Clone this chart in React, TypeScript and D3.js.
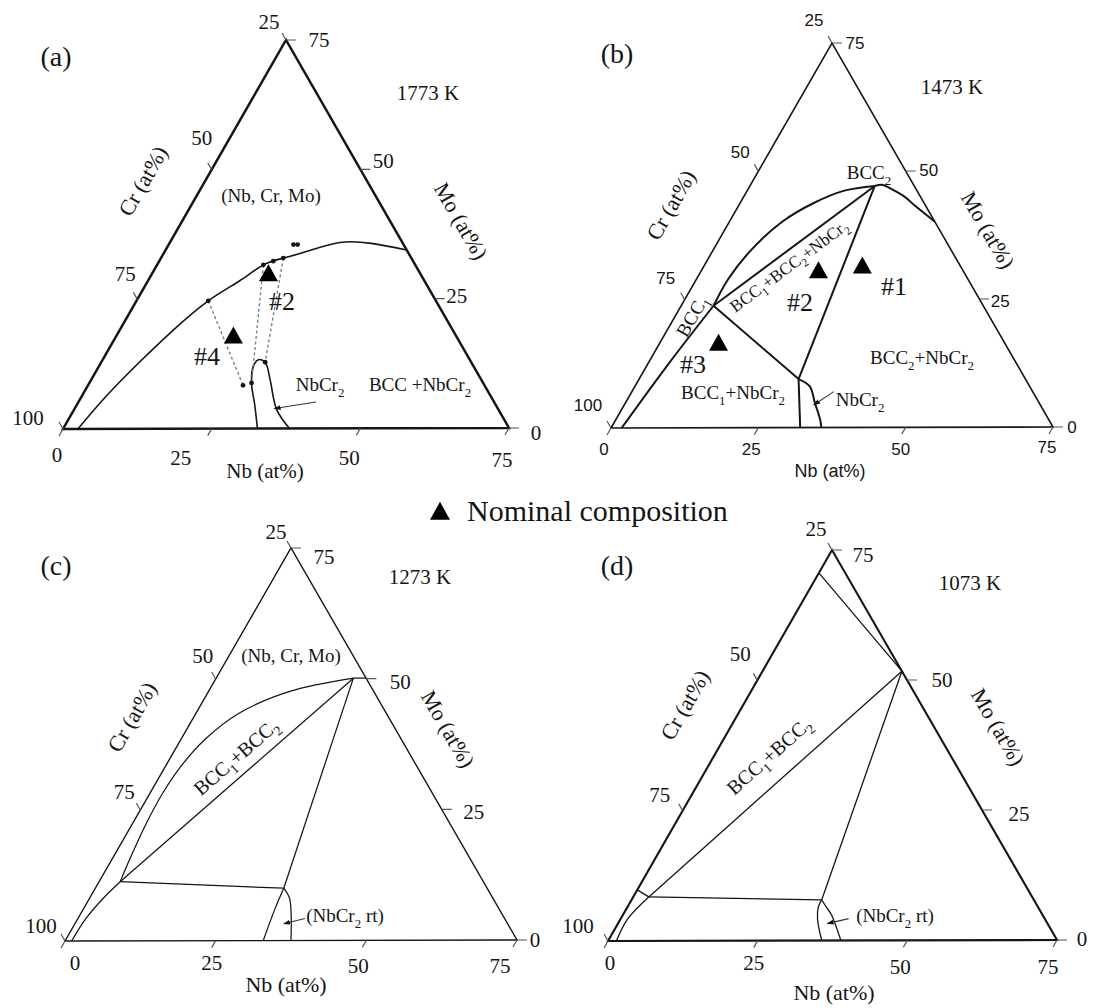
import React from 'react';
import * as d3 from 'd3';

type P = [number, number]; // [Nb at%, Mo at%]  (Cr = 100 - Nb - Mo)

// ---------- axes ----------
const axisMax = 75;
const nbTicks = [0, 25, 50, 75];
const moTicks = [0, 25, 50, 75];
const crTicks = [100, 75, 50, 25];
const panelLetters = ['(a)', '(b)', '(c)', '(d)'];
const temperatures = ['1773 K', '1473 K', '1273 K', '1073 K'];
const legendText = 'Nominal composition';

// ---------- (a) 1773 K ----------
const aSolvus: P[] = [[2.5, 0], [4.1, 6.3], [6.4, 12.8], [9.0, 19.0], [12.09, 24.68], [15.4, 28.5], [17.9, 31.6], [20.6, 32.9], [24.2, 34.3], [28.6, 35.9], [34.0, 35.7], [40.6, 34.4]];
const aNbCr2: P[] = [[32.7, 0], [30.0, 4.5], [27.3, 8.81], [26.0, 12.0], [26.2, 13.3], [27.6, 12.8], [30.1, 9.45], [34.1, 3.66], [38.1, 0]];
const aTieLines: P[][] = [[[12.09, 24.68], [26.1, 8.35]], [[17.9, 31.6], [27.3, 8.81]], [[20.6, 32.9], [27.6, 12.8]]];
const aDots: P[] = [[12.09, 24.68], [26.1, 8.35], [17.9, 31.6], [27.3, 8.81], [19.2, 32.3], [20.6, 32.9], [27.6, 12.8], [21.0, 35.5], [21.7, 35.5]];
const aNominal = [{ id: '#2', nb: 19.7, mo: 29.7 }, { id: '#4', nb: 19.8, mo: 17.7 }];
const aArrow: P[] = [[40.0, 5.1], [33.6, 3.86]];

// ---------- (b) 1473 K ----------
const bBcc1: P = [5.5, 23.8];
const bBcc2: P = [21.2, 47.1];
const bCorner: P = [27.1, 9.46];
const bUpperArc: P[] = [[5.5, 23.8], [5.4, 29.0], [6.4, 34.5], [9.0, 40.2], [12.5, 43.8], [16.5, 46.2], [21.2, 47.1]];
const bRightCurve: P[] = [[21.2, 47.1], [22.5, 47.3], [24.1, 46.6], [27.3, 45.0], [30.0, 43.2], [34.9, 40.1]];
const bLeftCurve: P[] = [[5.5, 23.8], [3.5, 12.4], [1.8, 0]];
const bNbCr2Left: P[] = [[27.1, 9.46], [32.1, 0]];
const bNbCr2Right: P[] = [[27.1, 9.46], [29.7, 8.05], [32.2, 4.8], [34.7, 1.56], [35.7, 0]];
const bNominal = [{ id: '#1', nb: 27.0, mo: 31.3 }, { id: '#2', nb: 20.0, mo: 30.4 }, { id: '#3', nb: 10.1, mo: 16.3 }];
const bArrow: P[] = [[34.3, 7.0], [32.2, 4.4]];

// ---------- (c) 1273 K ----------
const cBcc1: P = [3.5, 11.3];
const cBcc2: P = [22.8, 50.1];
const cCorner: P = [31.3, 10.0];
const cUpperArc: P[] = [[3.5, 11.3], [2.9, 16.0], [2.3, 22.0], [2.1, 28.0], [2.6, 33.5], [4.0, 38.5], [7.2, 43.5], [13.5, 47.6], [22.8, 50.1]];
const cEdgeSeg: P[] = [[22.8, 50.1], [24.9, 50.1]];
const cLowerCurve: P[] = [[3.5, 11.3], [2.26, 8.1], [1.33, 4.2], [1.1, 0]];
const cNbCr2Left: P[] = [[31.3, 10.0], [31.8, 6.1], [32.9, 0]];
const cNbCr2Right: P[] = [[31.3, 10.0], [33.2, 8.1], [35.1, 4.85], [37.5, 0]];
const cArrow: P[] = [[37.7, 4.2], [34.7, 3.2]];

// ---------- (d) 1073 K ----------
const dBcc1: P = [2.6, 8.45];
const dBcc2: P = [23.3, 51.7];
const dCorner: P = [31.8, 7.8];
const dTopLine: P[] = [[0, 70.6], [23.3, 51.7]];
const dEdgeSeg: P[] = [[0, 9.8], [2.6, 8.45]];
const dLowerCurve: P[] = [[2.6, 8.45], [1.16, 4.2], [1.4, 0]];
const dNbCr2Left: P[] = [[31.8, 7.8], [31.9, 6.5], [32.9, 4.2], [35.7, 0]];
const dNbCr2Right: P[] = [[31.8, 7.8], [33.4, 6.3], [34.9, 4.9], [38.9, 0]];
const dArrow: P[] = [[38.1, 4.2], [35.0, 3.25]];

const SERIF = '"Liberation Serif", "Times New Roman", Times, serif';
const SANS = '"Liberation Sans", Arial, sans-serif';
const INK = '#151515';

function RichText({ x, y, text, size, family = SERIF, anchor = 'middle', angle = 0, fill = INK }: any) {
  const tokens = text.split(/(_[0-9])/).filter((s: string) => s.length);
  const sub = size * 0.28;
  const out: any[] = [];
  let shifted = false;
  tokens.forEach((t: string, i: number) => {
    if (t.startsWith('_')) {
      out.push(<tspan key={i} fontSize={size * 0.68} dy={sub}>{t.slice(1)}</tspan>);
      shifted = true;
    } else {
      out.push(<tspan key={i} dy={shifted ? -sub : 0}>{t}</tspan>);
      shifted = false;
    }
  });
  return (
    <text x={x} y={y + size * 0.34} fontSize={size} fontFamily={family} textAnchor={anchor}
      transform={angle ? `rotate(${angle},${x},${y})` : undefined} fill={fill}>{out}</text>
  );
}

function makeProj(bl: number[], br: number[], ap: number[]) {
  const f = d3.scaleLinear().domain([0, axisMax]).range([0, 1]);
  return (p: P): [number, number] => {
    const u = f(p[0]);
    const v = f(p[1]);
    return [bl[0] + u * (br[0] - bl[0]) + v * (ap[0] - bl[0]), bl[1] + u * (br[1] - bl[1]) + v * (ap[1] - bl[1])];
  };
}

function unit(a: number[], b: number[]) {
  const dx = b[0] - a[0], dy = b[1] - a[1];
  const l = Math.hypot(dx, dy);
  return [dx / l, dy / l];
}

function triPath(x: number, y: number, w: number, h: number) {
  return `M${x},${y - h * 0.62}L${x + w / 2},${y + h * 0.38}L${x - w / 2},${y + h * 0.38}Z`;
}

function Panel({ s, idx }: any) {
  const proj = makeProj(s.bl, s.br, s.ap);
  const smooth = d3.line<P>().x(p => proj(p)[0]).y(p => proj(p)[1]).curve(d3.curveCatmullRom.alpha(0.5));
  const natural = d3.line<P>().x(p => proj(p)[0]).y(p => proj(p)[1]).curve(d3.curveNatural);
  const straight = d3.line<P>().x(p => proj(p)[0]).y(p => proj(p)[1]);
  const downDir = unit(s.ap, s.bl);
  const leftDir = unit(s.br, s.ap);
  const rightDir = unit(s.bl, s.br);
  const tl = s.tickLen;
  const angleOf = (a: P, b: P) => {
    const pa = proj(a), pb = proj(b);
    return (Math.atan2(pb[1] - pa[1], pb[0] - pa[0]) * 180) / Math.PI;
  };
  const leftAngle = (Math.atan2(s.ap[1] - s.bl[1], s.ap[0] - s.bl[0]) * 180) / Math.PI;
  const rightAngle = (Math.atan2(s.br[1] - s.ap[1], s.br[0] - s.ap[0]) * 180) / Math.PI;
  const arrowTail = proj(s.arrow[0]);
  const arrowTip = proj(s.arrow[1]);
  return (
    <g>
      <path d={`M${s.bl[0]},${s.bl[1]}L${s.br[0]},${s.br[1]}L${s.ap[0]},${s.ap[1]}Z`} fill="none" stroke={INK} strokeWidth={s.edgeW} strokeLinejoin="miter" />
      {nbTicks.map((t, i) => {
        const p = proj([t, 0]);
        const o = s.offs.bottom[i];
        return (
          <g key={'nb' + t}>
            <line x1={p[0]} y1={p[1]} x2={p[0] + downDir[0] * tl} y2={p[1] + downDir[1] * tl} stroke="#555" strokeWidth={1.2} />
            <RichText x={p[0] + o[0]} y={p[1] + o[1]} text={String(t)} size={s.tickSize} family={s.tickFamily} />
          </g>
        );
      })}
      {crTicks.map((t, i) => {
        const p = proj([0, 100 - t]);
        const o = s.offs.left[i];
        return (
          <g key={'cr' + t}>
            <line x1={p[0]} y1={p[1]} x2={p[0] + leftDir[0] * tl} y2={p[1] + leftDir[1] * tl} stroke="#555" strokeWidth={1.2} />
            <RichText x={p[0] + o[0]} y={p[1] + o[1]} text={String(t)} size={s.tickSize} family={s.tickFamily} />
          </g>
        );
      })}
      {moTicks.map((t, i) => {
        const p = proj([axisMax - t, t]);
        const o = s.offs.right[i];
        return (
          <g key={'mo' + t}>
            <line x1={p[0]} y1={p[1]} x2={p[0] + rightDir[0] * (tl + 2)} y2={p[1] + rightDir[1] * (tl + 2)} stroke="#555" strokeWidth={1.2} />
            <RichText x={p[0] + o[0]} y={p[1] + o[1]} text={String(t)} size={s.tickSize} family={s.tickFamily} />
          </g>
        );
      })}
      {s.naturalCurves.map((c: P[], i: number) => (
        <path key={'n' + i} d={natural(c) || ''} fill="none" stroke={INK} strokeWidth={s.lineW} />
      ))}
      {s.curves.map((c: P[], i: number) => (
        <path key={'c' + i} d={smooth(c) || ''} fill="none" stroke={INK} strokeWidth={s.lineW} />
      ))}
      {s.lines.map((c: P[], i: number) => (
        <path key={'l' + i} d={straight(c) || ''} fill="none" stroke={INK} strokeWidth={s.lineW} />
      ))}
      {s.dashed.map((c: P[], i: number) => (
        <path key={'d' + i} d={straight(c) || ''} fill="none" stroke="#808080" strokeWidth={1.4} strokeDasharray="3,2.5" />
      ))}
      {s.dots.map((p: P, i: number) => {
        const q = proj(p);
        return <circle key={'dot' + i} cx={q[0]} cy={q[1]} r={2.4} fill={INK} />;
      })}
      <line x1={arrowTail[0]} y1={arrowTail[1]} x2={arrowTip[0]} y2={arrowTip[1]} stroke="#333" strokeWidth={1.1} markerEnd={`url(#arrowHead)`} />
      {s.nominal.map((n: any, i: number) => {
        const q = proj([n.nb, n.mo]);
        return <path key={'nm' + i} d={triPath(q[0], q[1], 19, 17)} fill="#000" />;
      })}
      {s.nominal.map((n: any, i: number) => (
        <RichText key={'nl' + i} x={s.nomLabels[i][0]} y={s.nomLabels[i][1]} text={n.id} size={26} />
      ))}
      {s.labels.map((l: any, i: number) => (
        <RichText key={'lab' + i} x={l.x} y={l.y} text={l.text} size={l.size}
          angle={l.along ? angleOf(l.along[0], l.along[1]) : l.edge === 'left' ? leftAngle : 0} />
      ))}
      <RichText x={s.titles.nb[0]} y={s.titles.nb[1]} text="Nb (at%)" size={s.titles.nb[2]} family={s.titles.nbFamily} />
      <RichText x={s.titles.cr[0]} y={s.titles.cr[1]} text="Cr (at%)" size={s.titles.cr[2]} angle={leftAngle} />
      <RichText x={s.titles.mo[0]} y={s.titles.mo[1]} text="Mo (at%)" size={s.titles.mo[2]} angle={rightAngle} />
      <RichText x={s.letter[0]} y={s.letter[1]} text={panelLetters[idx]} size={28} />
      <RichText x={s.temp[0]} y={s.temp[1]} text={temperatures[idx]} size={21} />
    </g>
  );
}

const panels = [
  {
    bl: [63, 429], br: [509, 428], ap: [286, 40], edgeW: 2.5, lineW: 1.6, tickLen: 8,
    tickSize: 21, tickFamily: SERIF,
    offs: {
      bottom: [[-6, 26], [-31, 29], [-11, 30], [-7, 32]],
      left: [[-35, -11], [-12, -25], [-10, -32], [-17, -18]],
      right: [[27, 5], [22, -3], [23, -8], [33, 0]],
    },
    titles: { nb: [265, 471, 21], nbFamily: SERIF, cr: [143, 181, 22], mo: [461, 221, 22] },
    letter: [56, 56], temp: [428, 93],
    naturalCurves: [aSolvus], curves: [aNbCr2], lines: [], dashed: aTieLines, dots: aDots,
    nominal: aNominal, nomLabels: [[282, 301], [207, 356]], arrow: aArrow,
    labels: [
      { text: '(Nb, Cr, Mo)', x: 271, y: 196, size: 19 },
      { text: 'NbCr_2', x: 320, y: 385, size: 19 },
      { text: 'BCC +NbCr_2', x: 420, y: 385, size: 19 },
    ],
  },
  {
    bl: [611, 428], br: [1053, 427], ap: [832, 43], edgeW: 1.6, lineW: 2.0, tickLen: 8,
    tickSize: 17, tickFamily: SANS,
    offs: {
      bottom: [[-7, 21], [-7, 22], [-5, 22], [-6, 20]],
      left: [[-23, -23], [-19, -21], [-18, -19], [-18, -23]],
      right: [[19, 0], [21, 2], [23, -1], [23, 0]],
    },
    titles: { nb: [830, 471, 18], nbFamily: SANS, cr: [671, 205, 22], mo: [988, 230, 22] },
    letter: [617, 53], temp: [952, 87],
    naturalCurves: [], curves: [bUpperArc, bRightCurve, bLeftCurve, bNbCr2Right],
    lines: [[bBcc1, bBcc2], [bBcc2, bCorner], [bBcc1, bCorner], bNbCr2Left],
    dashed: [], dots: [],
    nominal: bNominal, nomLabels: [[894, 286], [800, 302], [693, 364]], arrow: bArrow,
    labels: [
      { text: 'BCC_2', x: 869, y: 173, size: 19 },
      { text: 'BCC_1', x: 692, y: 316, size: 19, edge: 'left' },
      { text: 'BCC_1+BCC_2+NbCr_2', x: 789, y: 266, size: 17, along: [bBcc1, bBcc2] },
      { text: 'BCC_2+NbCr_2', x: 922, y: 358, size: 19 },
      { text: 'BCC_1+NbCr_2', x: 733, y: 393, size: 19 },
      { text: 'NbCr_2', x: 860, y: 400, size: 19 },
    ],
  },
  {
    bl: [65, 941], br: [517, 940], ap: [291, 548], edgeW: 1.4, lineW: 1.25, tickLen: 8,
    tickSize: 21, tickFamily: SERIF,
    offs: {
      bottom: [[10, 22], [-4, 22], [-8, 26], [-17, 26]],
      left: [[-24, -15], [-16, -18], [-13, -23], [-15, -16]],
      right: [[18, 0], [32, 3], [34, 3], [33, 9]],
    },
    titles: { nb: [286, 985, 22], nbFamily: SERIF, cr: [132, 717, 22], mo: [448, 729, 22] },
    letter: [56, 565], temp: [420, 577],
    naturalCurves: [], curves: [cUpperArc, cLowerCurve, cNbCr2Left, cNbCr2Right],
    lines: [cEdgeSeg, [cBcc1, cBcc2], [cBcc1, cCorner], [cBcc2, cCorner]],
    dashed: [], dots: [], nominal: [], nomLabels: [], arrow: cArrow,
    labels: [
      { text: '(Nb, Cr, Mo)', x: 291, y: 656, size: 19 },
      { text: 'BCC_1+BCC_2', x: 236, y: 757, size: 20, along: [cBcc1, cBcc2] },
      { text: '(NbCr_2 rt)', x: 345, y: 916, size: 19 },
    ],
  },
  {
    bl: [608, 941], br: [1057, 940], ap: [832, 550], edgeW: 2.1, lineW: 1.3, tickLen: 8,
    tickSize: 21, tickFamily: SERIF,
    offs: {
      bottom: [[2, 22], [-4, 22], [-7, 27], [-9, 27]],
      left: [[-30, -15], [-23, -16], [-17, -26], [-16, -21]],
      right: [[25, -1], [37, 4], [35, 0], [31, 5]],
    },
    titles: { nb: [834, 993, 22], nbFamily: SERIF, cr: [685, 705, 22], mo: [998, 727, 22] },
    letter: [617, 565], temp: [970, 583],
    naturalCurves: [], curves: [dLowerCurve, dNbCr2Left, dNbCr2Right],
    lines: [dTopLine, dEdgeSeg, [dBcc1, dBcc2], [dBcc2, dCorner], [dBcc1, dCorner]],
    dashed: [], dots: [], nominal: [], nomLabels: [], arrow: dArrow,
    labels: [
      { text: 'BCC_1+BCC_2', x: 769, y: 756, size: 20, along: [dBcc1, dBcc2] },
      { text: '(NbCr_2 rt)', x: 895, y: 916, size: 19 },
    ],
  },
];

export default function App() {
  return (
    <div style={{ position: 'absolute', left: 0, top: 0 }}>
      <svg width={1096} height={1008} viewBox="0 0 1096 1008" style={{ display: 'block', background: '#fff' }}>
        <defs>
          <marker id="arrowHead" viewBox="0 0 10 10" refX="9" refY="5" markerWidth="7" markerHeight="7" orient="auto" markerUnits="userSpaceOnUse">
            <path d="M0,1.5L10,5L0,8.5Z" fill="#111" />
          </marker>
        </defs>
        <rect x={0} y={0} width={1096} height={1008} fill="#fff" />
        {panels.map((s, i) => <Panel key={i} s={s} idx={i} />)}
        <path d={triPath(440, 513, 20, 18)} fill="#000" />
        <RichText x={467} y={511} text={legendText} size={30} anchor="start" />
      </svg>
    </div>
  );
}
